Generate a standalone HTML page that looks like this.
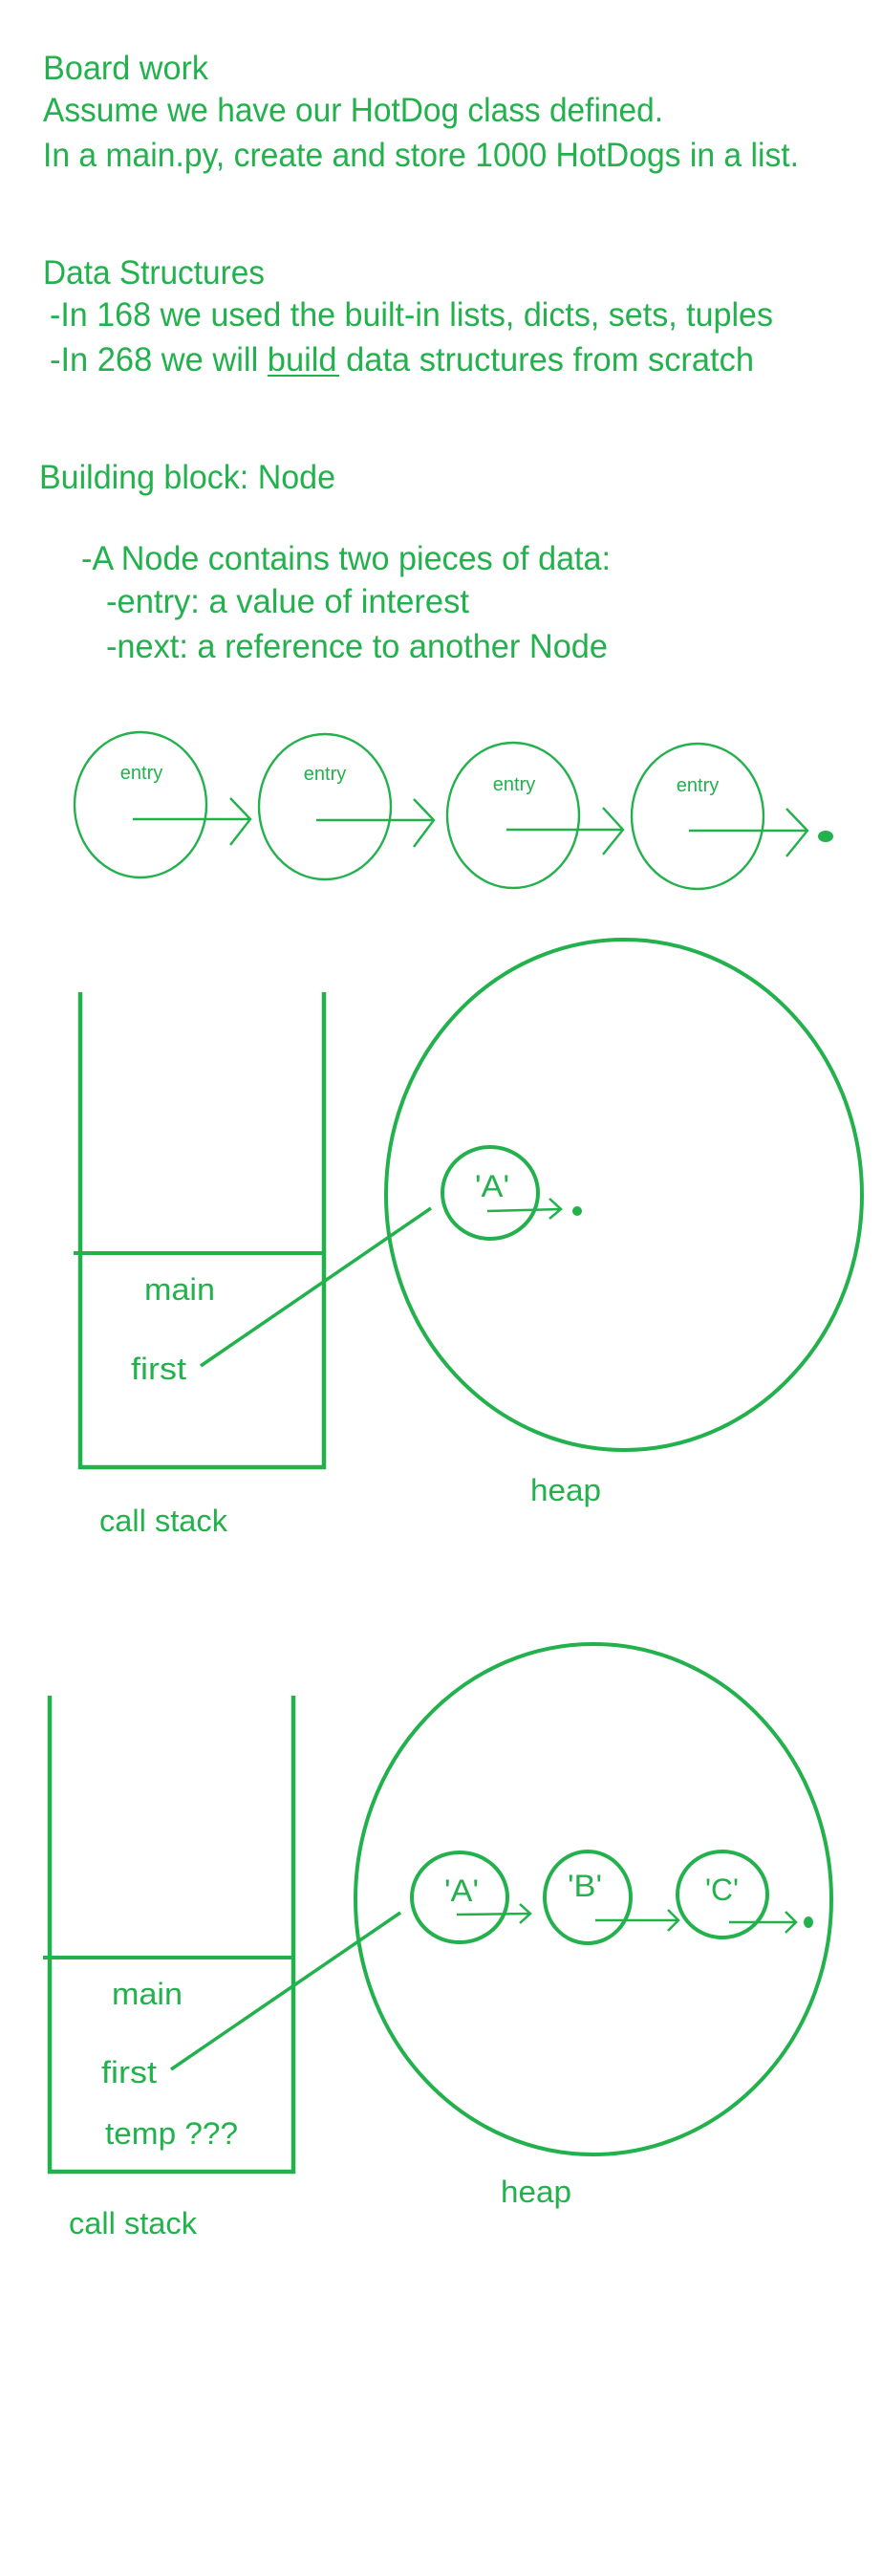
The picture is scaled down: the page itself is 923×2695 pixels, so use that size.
<!DOCTYPE html>
<html><head><meta charset="utf-8"><style>
html,body{margin:0;padding:0;background:#fff;}
svg{display:block;}
text{font-family:"Liberation Sans",sans-serif;fill:#22b14c;}
</style></head><body>
<svg width="923" height="2695" viewBox="0 0 923 2695" xmlns="http://www.w3.org/2000/svg">
<g font-size="35">
<text x="45" y="83" textLength="173" lengthAdjust="spacingAndGlyphs">Board work</text>
<text x="45" y="127" textLength="649" lengthAdjust="spacingAndGlyphs">Assume we have our HotDog class defined.</text>
<text x="45" y="174" textLength="791" lengthAdjust="spacingAndGlyphs">In a main.py, create and store 1000 HotDogs in a list.</text>
<text x="45" y="297" textLength="232" lengthAdjust="spacingAndGlyphs">Data Structures</text>
<text x="52" y="341" textLength="757" lengthAdjust="spacingAndGlyphs">-In 168 we used the built-in lists, dicts, sets, tuples</text>
<text x="52" y="388" textLength="737" lengthAdjust="spacingAndGlyphs">-In 268 we will build data structures from scratch</text>
<line x1="280" y1="393" x2="355" y2="393" stroke="#22b14c" stroke-width="2"/>
<text x="41" y="511" textLength="310" lengthAdjust="spacingAndGlyphs">Building block: Node</text>
<text x="85" y="596" textLength="554" lengthAdjust="spacingAndGlyphs">-A Node contains two pieces of data:</text>
<text x="111" y="641" textLength="380" lengthAdjust="spacingAndGlyphs">-entry: a value of interest</text>
<text x="111" y="688" textLength="525" lengthAdjust="spacingAndGlyphs">-next: a reference to another Node</text>
</g>

<g fill="none" stroke="#22b14c" stroke-width="2.4">
<ellipse cx="147" cy="842" rx="69" ry="76"/>
<ellipse cx="340" cy="844" rx="69" ry="76"/>
<ellipse cx="537" cy="853" rx="69" ry="76"/>
<ellipse cx="730" cy="854" rx="69" ry="76"/>
<path d="M139 857H262M241 835L262 857L241 884"/>
<path d="M331 858H454M433 836L454 858L433 886"/>
<path d="M530 868H652M631 845L652 868L631 894"/>
<path d="M721 869H845M823 846L845 869L823 896"/>
<ellipse cx="864" cy="875" rx="8" ry="6" fill="#22b14c" stroke="none"/>
</g>
<g font-size="20" text-anchor="middle">
<text x="148" y="815">entry</text>
<text x="340" y="816">entry</text>
<text x="538" y="827">entry</text>
<text x="730" y="828">entry</text>
</g>

<g fill="none" stroke="#22b14c">
<path d="M84 1038V1535H339V1038" stroke-width="4.5"/>
<line x1="77" y1="1311" x2="341" y2="1311" stroke-width="4"/>
<line x1="210" y1="1429" x2="451" y2="1264" stroke-width="3.5"/>
<ellipse cx="653" cy="1250" rx="249" ry="267" stroke-width="4"/>
<ellipse cx="513" cy="1248" rx="50" ry="48" stroke-width="4"/>
<path d="M510 1267L587 1265M575 1254L587 1265L575 1275" stroke-width="2.5"/>
<ellipse cx="604" cy="1267" rx="5" ry="5" fill="#22b14c" stroke="none"/>
</g>
<g font-size="32">
<text x="151" y="1360" textLength="74" lengthAdjust="spacingAndGlyphs">main</text>
<text x="137" y="1443" textLength="58" lengthAdjust="spacingAndGlyphs">first</text>
<text x="497" y="1252" textLength="36" lengthAdjust="spacingAndGlyphs">'A'</text>
<text x="555" y="1570" textLength="74" lengthAdjust="spacingAndGlyphs">heap</text>
<text x="104" y="1602" textLength="134" lengthAdjust="spacingAndGlyphs">call stack</text>
</g>

<g fill="none" stroke="#22b14c">
<path d="M52 1774V2272H307V1774" stroke-width="4.5"/>
<line x1="45" y1="2048" x2="309" y2="2048" stroke-width="4"/>
<line x1="179" y1="2165" x2="419" y2="2001" stroke-width="3.5"/>
<ellipse cx="621" cy="1987" rx="249" ry="267" stroke-width="4"/>
<ellipse cx="481" cy="1985" rx="50" ry="47" stroke-width="4"/>
<ellipse cx="615" cy="1985" rx="45" ry="48" stroke-width="4"/>
<ellipse cx="756" cy="1982" rx="47" ry="45" stroke-width="4"/>
<path d="M478 2003L555 2002M544 1992L555 2002L544 2012" stroke-width="2.5"/>
<path d="M623 2009H710M699 1998L710 2009L699 2020" stroke-width="2.5"/>
<path d="M763 2011H833M822 2000L833 2011L822 2022" stroke-width="2.5"/>
<ellipse cx="846" cy="2011" rx="5" ry="6" fill="#22b14c" stroke="none"/>
</g>
<g font-size="32">
<text x="117" y="2097" textLength="74" lengthAdjust="spacingAndGlyphs">main</text>
<text x="106" y="2179" textLength="58" lengthAdjust="spacingAndGlyphs">first</text>
<text x="110" y="2243" textLength="139" lengthAdjust="spacingAndGlyphs">temp ???</text>
<text x="465" y="1989" textLength="36" lengthAdjust="spacingAndGlyphs">'A'</text>
<text x="594" y="1984" textLength="36" lengthAdjust="spacingAndGlyphs">'B'</text>
<text x="738" y="1988" textLength="35" lengthAdjust="spacingAndGlyphs">'C'</text>
<text x="524" y="2304" textLength="74" lengthAdjust="spacingAndGlyphs">heap</text>
<text x="72" y="2337" textLength="134" lengthAdjust="spacingAndGlyphs">call stack</text>
</g>
</svg>
</body></html>
